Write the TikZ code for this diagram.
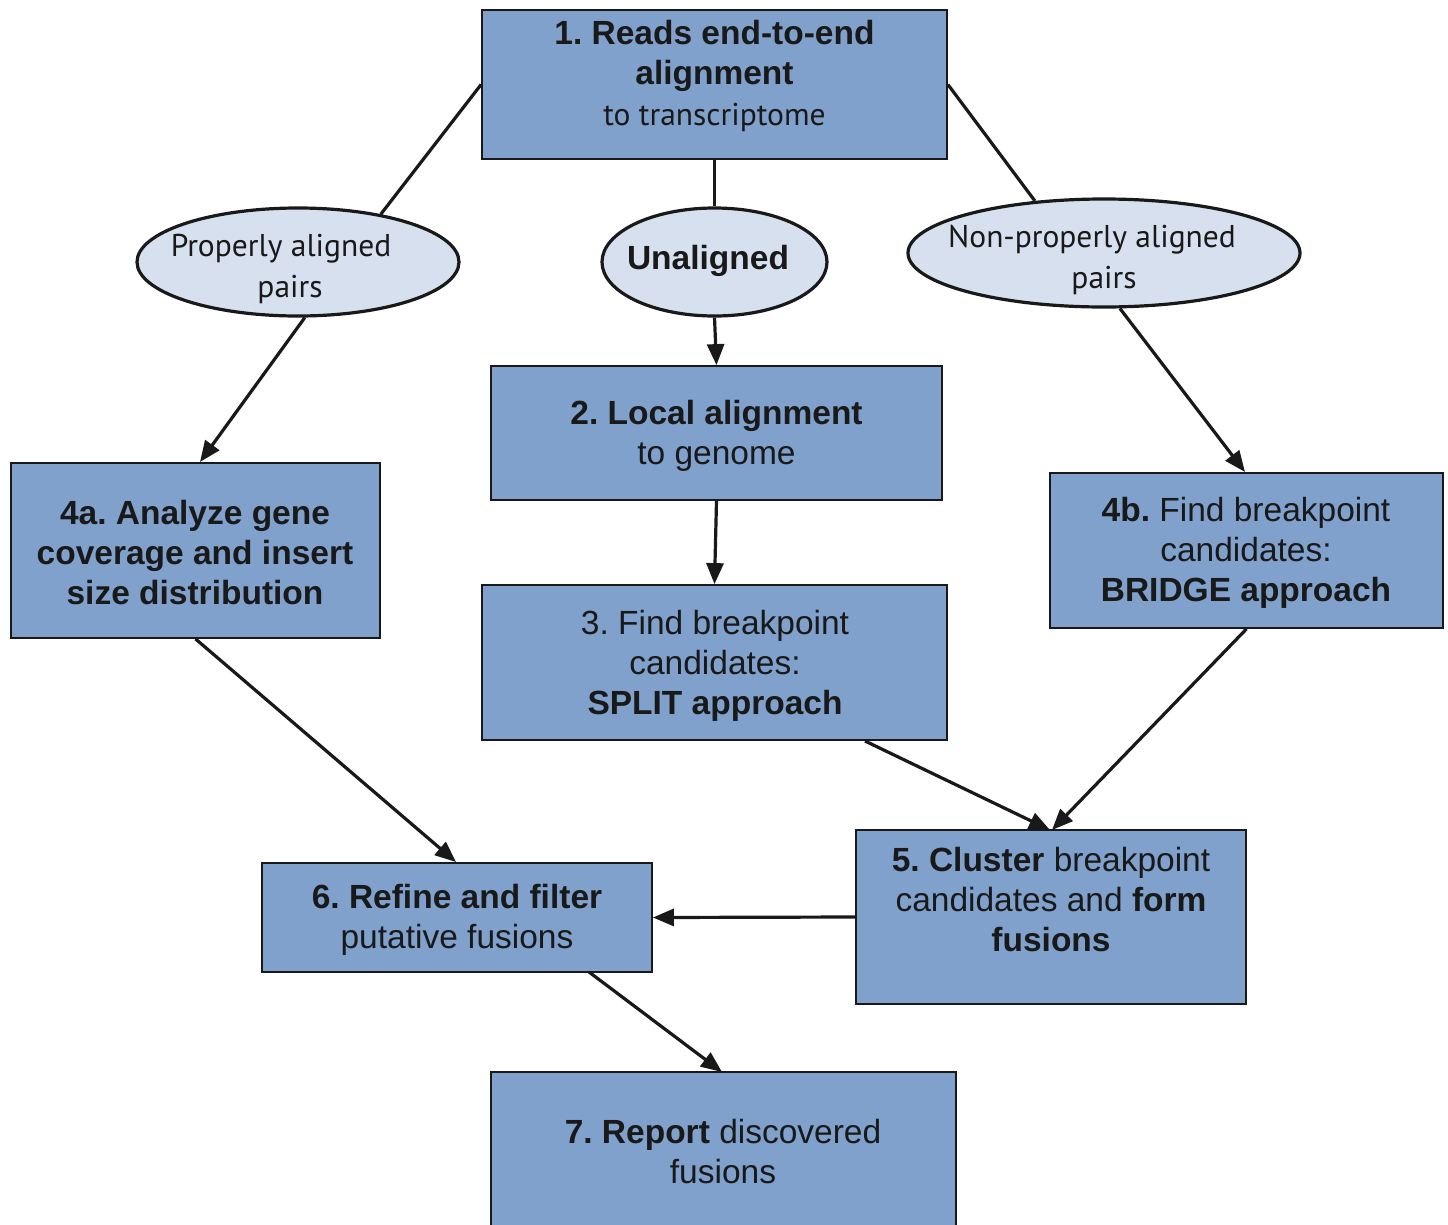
\documentclass[tikz,border=0pt]{standalone}
\usepackage{fontspec}
\setmainfont{Liberation Sans}
\newfontfamily\myr{PT Sans}
\usetikzlibrary{arrows.meta,shapes.geometric}
\definecolor{boxblue}{RGB}{128,161,204}
\definecolor{elfill}{RGB}{214,224,238}
\definecolor{ink}{RGB}{25,25,25}
\frenchspacing
\tikzset{
  box/.style={draw=ink, line width=1.8pt, fill=boxblue, rectangle, inner sep=0pt},
  oval/.style={draw=ink, line width=3.2pt, fill=elfill, ellipse, inner sep=0pt},
  txt/.style={align=center, text=ink, font=\fontsize{33.5}{40}\selectfont, inner sep=0pt},
  mtxt/.style={align=center, text=ink, font=\myr\fontsize{31.5}{40}\selectfont, inner sep=0pt},
  conn/.style={draw=ink, line width=3.2pt},
  arr/.style={conn, -{Triangle[length=21pt,width=17pt]}},
}
\begin{document}
\begin{tikzpicture}[x=1pt,y=-1pt]
\useasboundingbox[fill=white] (0,0) rectangle (1448,1224);
% boxes
\node[box, minimum width=465pt, minimum height=149pt] (b1) at (714.5,84.5) {};
\node[box, minimum width=451pt, minimum height=134pt] (b2) at (716.5,433) {};
\node[box, minimum width=465pt, minimum height=155pt] (b3) at (714.5,662.5) {};
\node[box, minimum width=369pt, minimum height=175pt] (b4a) at (195.5,550.5) {};
\node[box, minimum width=393pt, minimum height=155pt] (b4b) at (1246.5,550.5) {};
\node[box, minimum width=390pt, minimum height=174pt] (b5) at (1051,917) {};
\node[box, minimum width=390pt, minimum height=109pt] (b6) at (457,917.5) {};
\node[box, minimum width=465pt, minimum height=170pt] (b7) at (723.5,1157) {};
% ellipses
\node[oval, minimum width=322pt, minimum height=108pt] (ep) at (298,262) {};
\node[oval, minimum width=225pt, minimum height=108pt] (eu) at (714.5,262) {};
\node[oval, minimum width=392pt, minimum height=108pt] (en) at (1104,253) {};
% texts
\node[txt] (t1) at (714.5,56) {\textbf{1. Reads end-to-end}\\\textbf{alignment}};
\node[mtxt] (t1b) at (714.5,117) {to transcriptome};
\node[mtxt] (tep1) at (281,249) {Properly aligned};
\node[mtxt] (tep2) at (290,289) {pairs};
\node[txt] (teu) at (708,261) {\textbf{Unaligned}};
\node[mtxt] (ten1) at (1092,240) {Non-properly aligned};
\node[mtxt] (ten2) at (1104,280) {pairs};
\node[txt] (t2) at (716.5,436) {\textbf{2. Local alignment}\\to genome};
\node[txt] (t3) at (715,666) {3. Find breakpoint\\candidates:\\\textbf{SPLIT approach}};
\node[txt] (t4a) at (195,553) {\textbf{4a. Analyze gene}\\\textbf{coverage and insert}\\\textbf{size distribution}};
\node[txt] (t4b) at (1246,553) {\textbf{4b.} Find breakpoint\\candidates:\\\textbf{BRIDGE approach}};
\node[txt] (t5) at (1051,900) {\textbf{5. Cluster} breakpoint\\candidates and \textbf{form}\\\textbf{fusions}};
\node[txt] (t6) at (457,920) {\textbf{6. Refine and filter}\\putative fusions};
\node[txt] (t7) at (723,1152) {\textbf{7. Report} discovered\\fusions};
% connectors
\draw[conn] (b1.west) -- (ep.30);
\draw[conn] (b1.south) -- (eu.north);
\draw[conn] (b1.east) -- (en.143);
\draw[arr] (ep.-83) -- (200,462);
\draw[arr] (eu.south) -- (b2.north);
\draw[arr] (en.-74) -- (1245,472);
\draw[arr] (b2.south) -- (b3.north);
\draw[arr] (b4a.south) -- (456,862);
\draw[arr] (865,741) -- (1050,830);
\draw[arr] (b4b.south) -- (1052,830);
\draw[arr] (b5.west) -- (b6.east);
\draw[arr] (589,972) -- (722,1072);
\end{tikzpicture}
\end{document}
